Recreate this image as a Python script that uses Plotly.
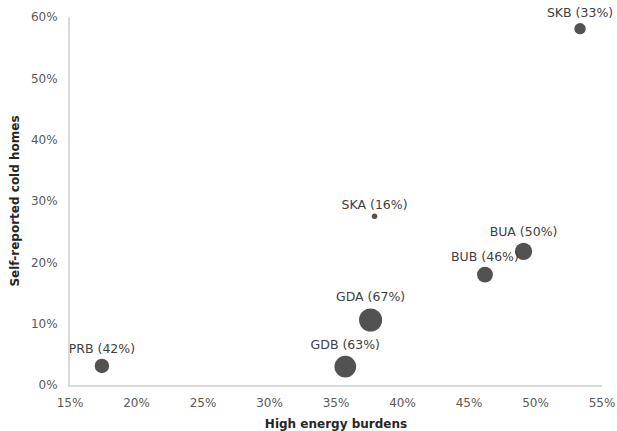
import plotly.graph_objects as go

labels = ["PRB", "GDB", "GDA", "SKA", "BUB", "BUA", "SKB"]
energy_burden = [0.174, 0.357, 0.376, 0.379, 0.462, 0.491, 0.5335]
cold_homes = [0.031, 0.030, 0.106, 0.275, 0.180, 0.218, 0.581]
bubble_pct = [42, 63, 67, 16, 46, 50, 33]

x_ticks = [0.15, 0.20, 0.25, 0.30, 0.35, 0.40, 0.45, 0.50, 0.55]
y_ticks = [0.0, 0.1, 0.2, 0.3, 0.4, 0.5, 0.6]

texts = [f"{l} ({p}%)" for l, p in zip(labels, bubble_pct)]

fig = go.Figure()
fig.add_trace(go.Scatter(
    x=energy_burden, y=cold_homes,
    mode="markers+text",
    text=texts,
    textposition="top center",
    textfont=dict(family="DejaVu Sans", size=12.5, color="#404040"),
    marker=dict(size=bubble_pct, sizemode="diameter", sizeref=2.9,
                color="#525252", opacity=1, line=dict(width=0)),
    cliponaxis=False,
    showlegend=False,
))

fig.update_layout(
    width=617, height=431,
    margin=dict(l=70, r=15, t=17, b=46),
    paper_bgcolor="white", plot_bgcolor="white",
    font=dict(family="DejaVu Sans", size=12, color="#595959"),
)
fig.update_xaxes(
    range=[0.15, 0.55], tickvals=x_ticks, tickformat=".0%",
    showgrid=False, zeroline=False, showline=True, linecolor="#d9d9d9", linewidth=2,
    ticks="", ticklabelstandoff=6, tickfont=dict(size=12, color="#595959"),
    automargin=False,
    title=dict(text="<b>High energy burdens</b>", font=dict(size=12, color="#262626"), standoff=10),
)
fig.update_yaxes(
    range=[0, 0.6], tickvals=y_ticks, tickformat=".0%",
    showgrid=False, zeroline=False, showline=True, linecolor="#d9d9d9", linewidth=2,
    ticks="", ticklabelstandoff=8, tickfont=dict(size=12, color="#595959"),
    automargin=False,
    title=dict(text="<b>Self-reported cold homes</b>", font=dict(size=12, color="#262626"), standoff=9),
)

fig.write_html(
    "out.html",
    config={"displayModeBar": False},
    post_script="document.body.style.margin='0';document.body.style.overflow='hidden';",
)
